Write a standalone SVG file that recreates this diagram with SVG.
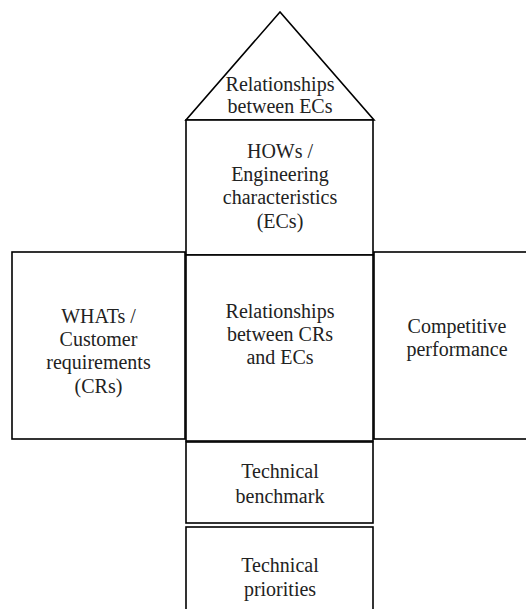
<svg xmlns="http://www.w3.org/2000/svg" width="526" height="609" viewBox="0 0 526 609">
<style>
.box{fill:#ffffff;stroke:#000000;stroke-width:1.6}
.t{font-family:"Liberation Serif","Times New Roman",serif;font-size:20px;fill:#222222;text-anchor:middle}
</style>
<rect width="526" height="609" fill="#ffffff"/>
<g id="roof">
<polygon class="box" points="280,12 186,120 374,120"/>
<text class="t" x="280" y="91">Relationships</text>
<text class="t" x="280" y="113">between ECs</text>
</g>
<g id="hows">
<rect class="box" x="186" y="120" width="187" height="135"/>
<text class="t" x="280" y="158">HOWs /</text>
<text class="t" x="280" y="181">Engineering</text>
<text class="t" x="280" y="204">characteristics</text>
<text class="t" x="280" y="228">(ECs)</text>
</g>
<g id="whats">
<rect class="box" x="12" y="252" width="173" height="187"/>
<text class="t" x="98.5" y="323">WHATs /</text>
<text class="t" x="98.5" y="346">Customer</text>
<text class="t" x="98.5" y="369">requirements</text>
<text class="t" x="98.5" y="393">(CRs)</text>
</g>
<g id="relationships">
<rect class="box" x="186" y="255" width="187" height="186"/>
<text class="t" x="280" y="318">Relationships</text>
<text class="t" x="280" y="341">between CRs</text>
<text class="t" x="280" y="364">and ECs</text>
</g>
<g id="competitive">
<rect class="box" x="374" y="252" width="170" height="187"/>
<text class="t" x="457" y="333">Competitive</text>
<text class="t" x="457" y="356">performance</text>
</g>
<g id="benchmark">
<rect class="box" x="186" y="442" width="187" height="81"/>
<text class="t" x="280" y="478">Technical</text>
<text class="t" x="280" y="503">benchmark</text>
</g>
<g id="priorities">
<rect class="box" x="186" y="527" width="187" height="100"/>
<text class="t" x="280" y="572">Technical</text>
<text class="t" x="280" y="596">priorities</text>
</g>
<g id="connectors"></g>
</svg>
